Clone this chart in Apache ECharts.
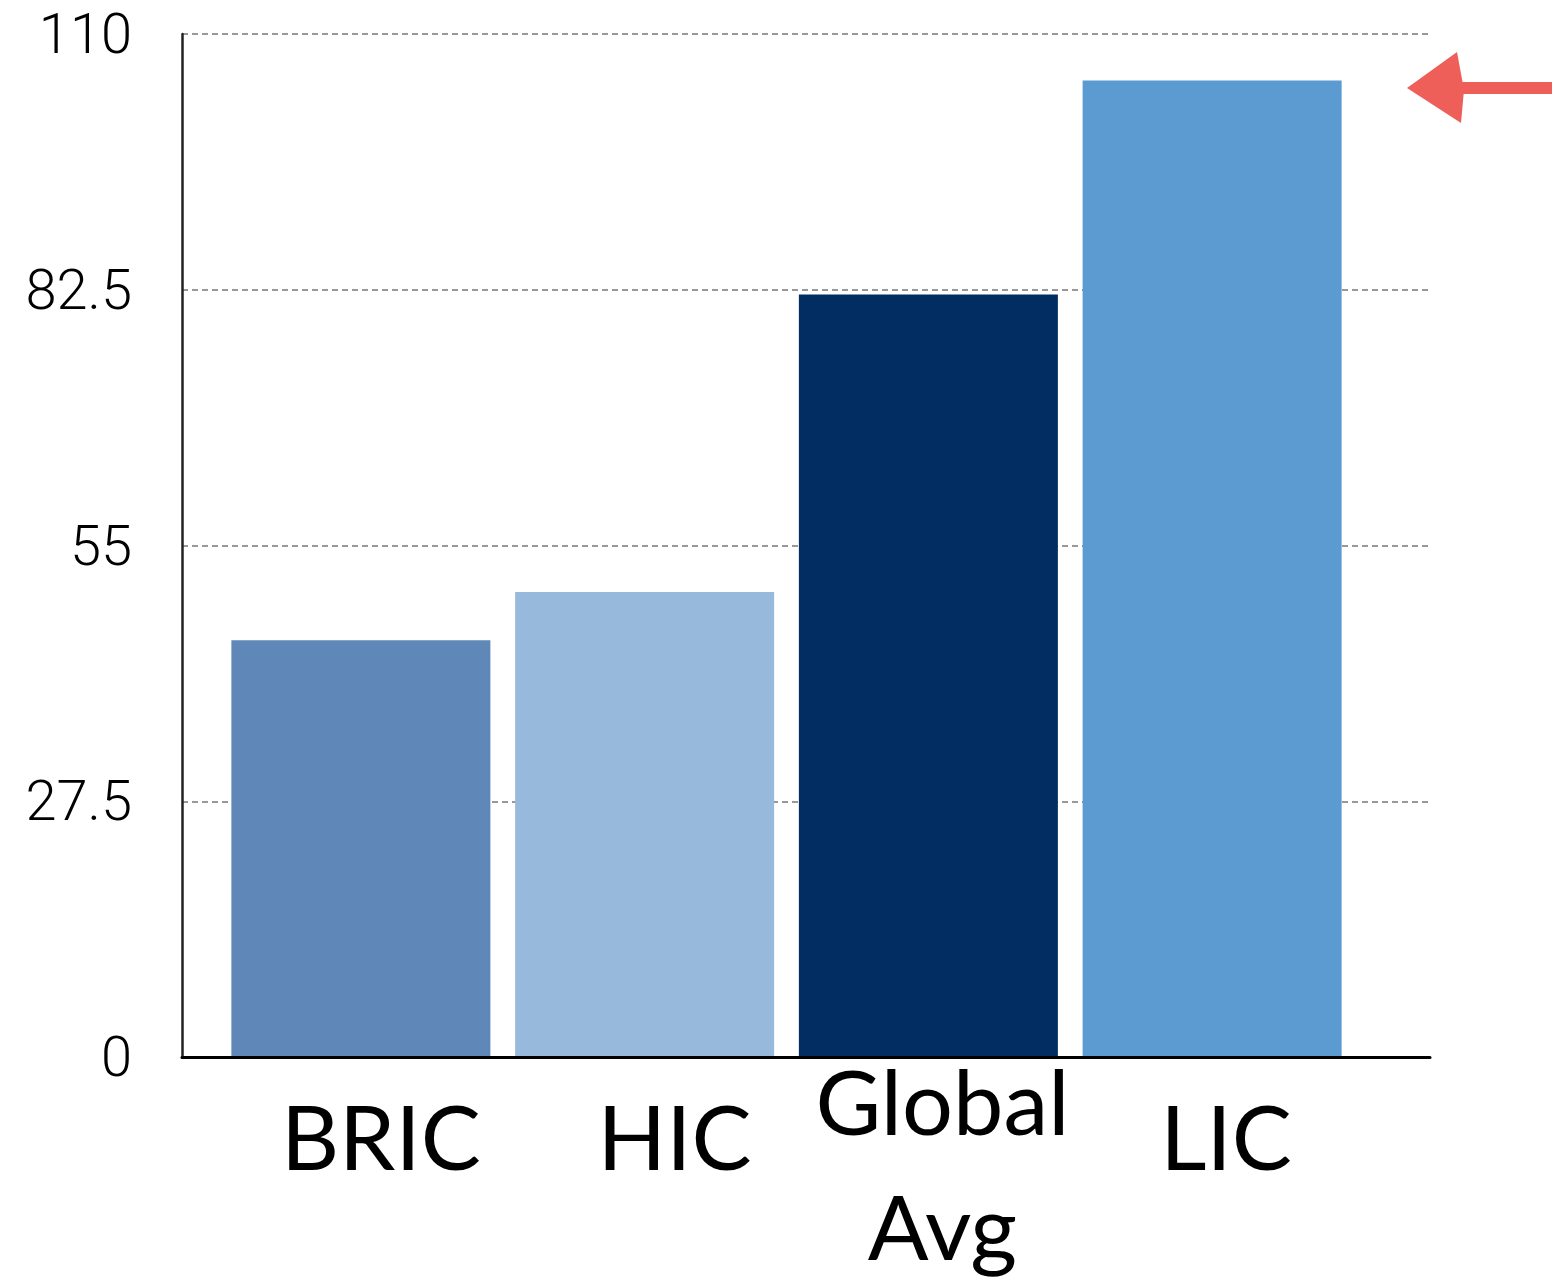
<!DOCTYPE html>
<html>
<head>
<meta charset="utf-8">
<script src="https://cdn.jsdelivr.net/npm/echarts@6/dist/echarts.min.js"></script>
<style>
html,body{margin:0;padding:0;background:#fff;}
#chart{width:1552px;height:1284px;}
</style>
</head>
<body>
<div id="chart"></div>
<script>
// ---- data ----
var categories = ['BRIC', 'HIC', 'Global\nAvg', 'LIC'];
var values = [44.8, 50, 82, 105];
var yTicks = [0, 27.5, 55, 82.5, 110];

// ---- styles ----
var barColors = ['#5f87b8', '#97b9db', '#022d63', '#5b9bd1'];
var labelPadding = [[35,0,0,40],[35,0,0,60],[0,0,0,28],[35,0,0,28]];

var chart = echarts.init(document.getElementById('chart'), null, {renderer:'canvas'});

var axisData = categories.map(function(c, i){
  return { value: c, textStyle: { padding: labelPadding[i] } };
});

var option = {
  backgroundColor: '#ffffff',
  animation: false,
  grid: [
    { left: 182, right: 122, top: 34, bottom: 227, containLabel: false, outerBoundsMode: 'none' },
    { left: 219, right: 198, top: 34, bottom: 227, containLabel: false, outerBoundsMode: 'none' }
  ],
  xAxis: [
    { gridIndex: 0, type: 'value', min: 0, max: 1, z: 5,
      axisLine: { show: true, lineStyle: { color: '#000', width: 3 } },
      axisTick: { show: false }, axisLabel: { show: false }, splitLine: { show: false } },
    { gridIndex: 1, type: 'category', data: axisData,
      axisLine: { show: false }, axisTick: { show: false },
      axisLabel: { interval: 0, margin: -14, lineHeight: 125,
        fontSize: 90, fontFamily: 'Lato', color: '#000' } }
  ],
  yAxis: [
    { gridIndex: 0, type: 'value', min: yTicks[0], max: yTicks[yTicks.length-1], interval: yTicks[1]-yTicks[0],
      axisLine: { show: true, lineStyle: { color: '#222', width: 2.5 } },
      axisTick: { show: false },
      axisLabel: { margin: 50, fontSize: 56, fontFamily: 'Roboto', fontWeight: 300, color: '#000',
        lineHeight: 10,
        formatter: function(v){ return ' \n' + String(v); } },
      splitLine: { show: true, lineStyle: { color: '#999', width: 2, type: [6, 4] } } },
    { gridIndex: 1, type: 'value', min: yTicks[0], max: yTicks[yTicks.length-1], show: false }
  ],
  series: [{
    type: 'bar', xAxisIndex: 1, yAxisIndex: 1, barWidth: 259,
    data: values.map(function(v, i){ return { value: v, itemStyle: { color: barColors[i] } }; })
  }],
  graphic: [
    { type: 'rect', shape: { x: 1452, y: 82, width: 100, height: 12 }, style: { fill: '#ef5f5a' } },
    { type: 'polygon', shape: { points: [[1407,88],[1457,52],[1464,90],[1461,123]] }, style: { fill: '#ef5f5a' } }
  ]
};
chart.setOption(option);
</script>
</body>
</html>
